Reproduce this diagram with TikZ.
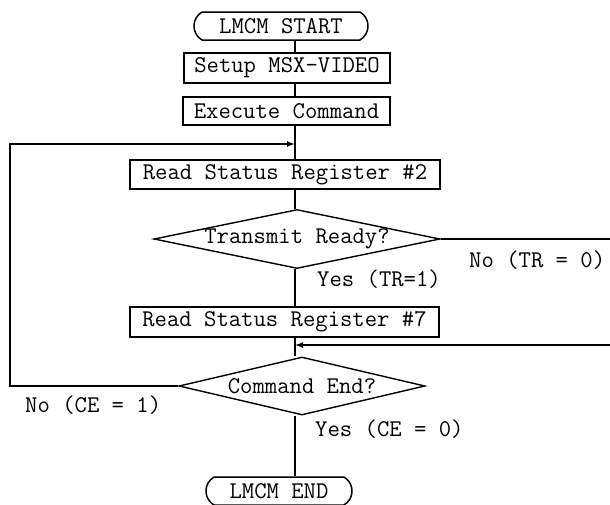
\documentclass[tikz,border=0pt]{standalone}
\usepackage{fontspec}
\usetikzlibrary{shapes.geometric,shapes.misc,arrows.meta}
\begin{document}
\begin{tikzpicture}[x=1pt,y=-1pt,
  every node/.style={font=\ttfamily\fontsize{24}{26}\selectfont},
  proc/.style={draw, line width=1.5pt, rectangle, inner sep=0pt},
  term/.style={draw, line width=1.5pt, rounded rectangle, rounded rectangle arc length=120, inner sep=0pt},
  dec/.style={draw, line width=1.4pt, diamond, shape aspect=4.8, inner sep=0pt},
  conn/.style={line width=1.4pt},
  arr/.style={conn, -{Latex[length=8pt,width=6pt]}},
  lab/.style={anchor=west, inner sep=0pt}
]
\useasboundingbox (0,0) rectangle (610,504);
\coordinate (axis) at (295,0);

\node[term, minimum width=174pt, minimum height=28pt] (start) at (281,26) {LMCM START};
\node[proc, minimum width=206pt, minimum height=30pt] (setup) at (287,68) {Setup MSX-VIDEO};
\node[proc, minimum width=207pt, minimum height=28pt] (exec) at (286.5,111) {Execute Command};
\node[proc, minimum width=310pt, minimum height=29pt] (rs2) at (285,174.5) {Read Status Register \#2};
\node[dec, minimum width=286pt, minimum height=59pt] (tr) at (297,239) {Transmit Ready?};
\node[proc, minimum width=309pt, minimum height=30pt] (rs7) at (284.5,322) {Read Status Register \#7};
\node[dec, minimum width=246pt, minimum height=58pt] (ce) at (302,386) {Command End?};
\node[term, minimum width=146pt, minimum height=28pt] (end) at (279,491) {LMCM END};

\coordinate (loopcorner) at (10,144);
\coordinate (trout) at (610,239);
\coordinate (retin) at (610,345);

\draw[conn] (start.south -| axis) -- (setup.north -| axis);
\draw[conn] (setup.south -| axis) -- (exec.north -| axis);
\draw[conn] (exec.south -| axis) -- (rs2.north -| axis);
\draw[conn] (rs2.south -| axis) -- (tr.north -| axis);
\draw[conn] (tr.south -| axis) -- (rs7.north -| axis);
\draw[conn] (rs7.south -| axis) -- (ce.north -| axis);
\draw[conn] (ce.south -| axis) -- (end.north -| axis);
\draw[conn] (tr.east) -- (trout);
\draw[arr] (retin) -- (retin -| axis);
\draw[arr] (ce.west) -| (loopcorner) -- (loopcorner -| axis);

\node[lab] (ytr) at (317,279) {Yes (TR=1)};
\node[lab] (ntr) at (469,260) {No (TR = 0)};
\node[lab] (nce) at (25,405) {No (CE = 1)};
\node[lab] (yce) at (315,429) {Yes (CE = 0)};
\end{tikzpicture}
\end{document}
